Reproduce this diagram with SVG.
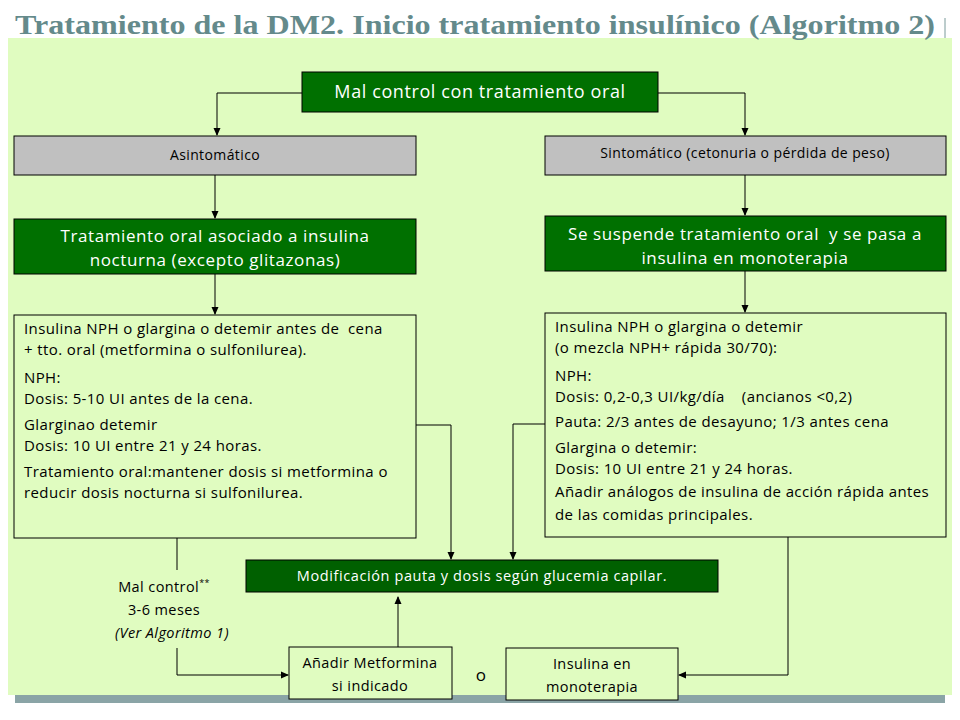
<svg xmlns="http://www.w3.org/2000/svg" width="960" height="720" viewBox="0 0 960 720">
<defs>
<marker id="ah" markerWidth="8" markerHeight="8" refX="7" refY="4" orient="auto" markerUnits="userSpaceOnUse"><path d="M0,0.5 L8,4 L0,7.5 Z" fill="#000"/></marker>
<style>
.t{font-family:"Open Sans",Lato,sans-serif;fill:#000;letter-spacing:0.4px}
.w{font-family:"Open Sans",Lato,sans-serif;fill:#fff;letter-spacing:0.6px}
.g{fill:#007000;stroke:#000;stroke-width:1}
.gr{fill:#c0c0c0;stroke:#000;stroke-width:1}
.l{fill:#e0fcc0;stroke:#000;stroke-width:1}
.c{fill:none;stroke:#000;stroke-width:1;marker-end:url(#ah)}
.n{fill:none;stroke:#000;stroke-width:1}
</style>
</defs>
<rect width="960" height="720" fill="#fff"/>
<rect x="8" y="38" width="944" height="657" fill="#e0fcc0"/>
<rect x="15" y="695" width="930" height="8" fill="#8aa4a6"/>
<line x1="945" y1="18" x2="945" y2="38" stroke="#7a9a9a" stroke-width="1"/>
<text x="15" y="34" font-family="Liberation Serif,serif" font-weight="bold" font-size="27" fill="#648a8b" textLength="920" lengthAdjust="spacingAndGlyphs">Tratamiento de la DM2. Inicio tratamiento insulínico (Algoritmo 2)</text>

<g id="connectors">
<polyline class="c" points="302,93 217,93 217,135"/>
<polyline class="c" points="658,93 745,93 745,135"/>
<line class="c" x1="215" y1="175" x2="215" y2="218"/>
<line class="c" x1="745" y1="175" x2="745" y2="215"/>
<line class="c" x1="215" y1="274" x2="215" y2="314"/>
<line class="c" x1="745" y1="271" x2="745" y2="312"/>
<polyline class="c" points="416,425 451,425 451,559"/>
<polyline class="c" points="545,424 513,424 513,559"/>
<line class="n" x1="177" y1="538" x2="177" y2="570"/>
<polyline class="c" points="177,648 177,675 288,675"/>
<line class="c" x1="398" y1="647" x2="398" y2="597"/>
<polyline class="c" points="788,537 788,675 679,675"/>
</g>

<g id="top"><rect class="g" x="302" y="72" width="356" height="40"/><text class="w" x="480" y="98" font-size="18" text-anchor="middle">Mal control con tratamiento oral</text></g>
<g id="asint"><rect class="gr" x="14" y="136" width="402" height="39"/><text class="t" x="215" y="160" font-size="14" text-anchor="middle">Asintomático</text></g>
<g id="sint"><rect class="gr" x="545" y="136" width="401" height="39"/><text class="t" x="745" y="158" font-size="14" text-anchor="middle">Sintomático (cetonuria o pérdida de peso)</text></g>
<g id="oral"><rect class="g" x="14" y="219" width="402" height="55"/><text class="w" font-size="17" text-anchor="middle"><tspan x="215" y="242">Tratamiento oral asociado a insulina</tspan><tspan x="215" y="266">nocturna (excepto glitazonas)</tspan></text></g>
<g id="susp"><rect class="g" x="545" y="216" width="401" height="55"/><text class="w" font-size="17" text-anchor="middle" xml:space="preserve"><tspan x="745" y="240">Se suspende tratamiento oral  y se pasa a</tspan><tspan x="745" y="264">insulina en monoterapia</tspan></text></g>
<g id="leftbox"><rect class="l" x="14" y="315" width="402" height="223"/>
<text class="t" font-size="15" xml:space="preserve"><tspan x="24" y="334">Insulina NPH o glargina o detemir antes de  cena</tspan><tspan x="24" y="355">+ tto. oral (metformina o sulfonilurea).</tspan><tspan x="24" y="383">NPH:</tspan><tspan x="24" y="404">Dosis: 5-10 UI antes de la cena.</tspan><tspan x="24" y="430">Glarginao detemir</tspan><tspan x="24" y="451">Dosis: 10 UI entre 21 y 24 horas.</tspan><tspan x="24" y="477">Tratamiento oral:mantener dosis si metformina o</tspan><tspan x="24" y="498">reducir dosis nocturna si sulfonilurea.</tspan></text></g>
<g id="rightbox"><rect class="l" x="545" y="313" width="401" height="224"/>
<text class="t" font-size="15" xml:space="preserve"><tspan x="555" y="332">Insulina NPH o glargina o detemir</tspan><tspan x="555" y="353">(o mezcla NPH+ rápida 30/70):</tspan><tspan x="555" y="381">NPH:</tspan><tspan x="555" y="402">Dosis: 0,2-0,3 UI/kg/día    (ancianos &lt;0,2)</tspan><tspan x="555" y="427">Pauta: 2/3 antes de desayuno; 1/3 antes cena</tspan><tspan x="555" y="453">Glargina o detemir:</tspan><tspan x="555" y="474">Dosis: 10 UI entre 21 y 24 horas.</tspan><tspan x="555" y="497">Añadir análogos de insulina de acción rápida antes</tspan><tspan x="555" y="520">de las comidas principales.</tspan></text></g>
<g id="mod"><rect fill="#006000" stroke="#000" x="246" y="560" width="472" height="32"/><text class="w" x="482" y="581" font-size="14.5" text-anchor="middle">Modificación pauta y dosis según glucemia capilar.</text></g>
<g id="malc"><text class="t" font-size="14.5" text-anchor="middle"><tspan x="164" y="592">Mal control<tspan font-size="9" dy="-6">**</tspan></tspan><tspan x="164" y="615">3-6 meses</tspan><tspan x="172" y="638" font-style="italic">(Ver Algoritmo 1)</tspan></text></g>
<g id="anadir"><rect class="l" x="289" y="647" width="163" height="52"/><text class="t" font-size="14.5" text-anchor="middle"><tspan x="370" y="668">Añadir Metformina</tspan><tspan x="370" y="691">si indicado</tspan></text></g>
<text class="t" x="481" y="681" font-size="17" text-anchor="middle">o</text>
<g id="monot"><rect class="l" x="506" y="648" width="172" height="52"/><text class="t" font-size="14.5" text-anchor="middle"><tspan x="592" y="669">Insulina en</tspan><tspan x="592" y="692">monoterapia</tspan></text></g>
</svg>
